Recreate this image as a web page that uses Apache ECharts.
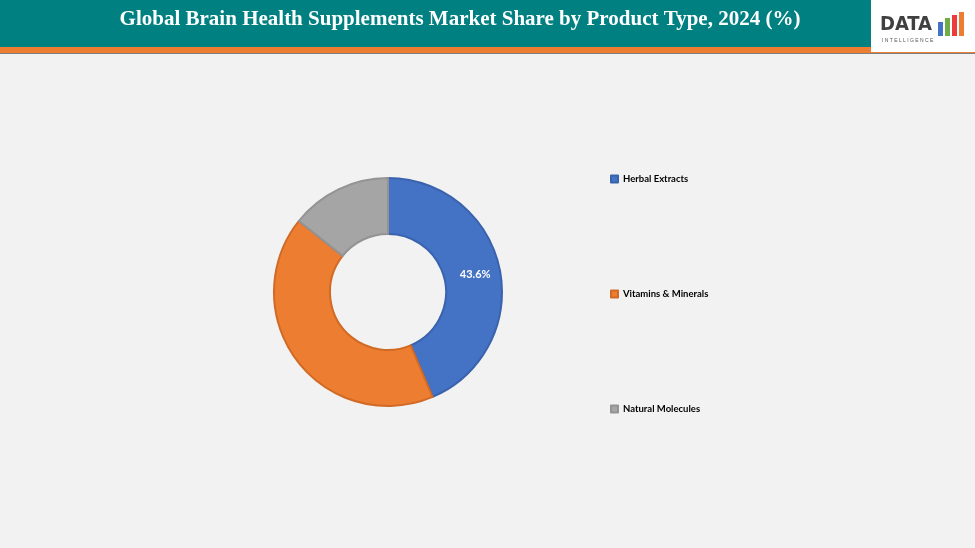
<!DOCTYPE html>
<html lang="en">
<head>
<meta charset="utf-8">
<title>Brain Health Supplements</title>
<script src="https://cdn.jsdelivr.net/npm/echarts@6/dist/echarts.min.js"></script>
<style>
html,body{margin:0;padding:0;background:#f2f2f2;}
#main{width:975px;height:548px;}
</style>
</head>
<body>
<div id="main"></div>
<script>
var categories = ['Herbal Extracts', 'Vitamins & Minerals', 'Natural Molecules'];
var shares = [43.6, 42.1, 14.3];
var colors = ['#4472c4', '#ed7d31', '#a5a5a5'];
var borders = ['#3a63ad', '#d06a25', '#939393'];

var chart = echarts.init(document.getElementById('main'));
chart.setOption({
    backgroundColor: '#f2f2f2',
    graphic: [
        {type: 'rect', shape: {x: 0, y: 0, width: 975, height: 47}, style: {fill: '#008080'}},
        {type: 'rect', shape: {x: 0, y: 47, width: 975, height: 6}, style: {fill: '#ed7d31'}},
        {type: 'rect', shape: {x: 0, y: 53, width: 975, height: 1}, style: {fill: '#7f7f7f'}},
        {type: 'text', x: 460, y: 9, style: {text: 'Global Brain Health Supplements Market Share by Product Type, 2024 (%)',
            fill: '#fff', font: 'bold 21px "Liberation Serif", serif', align: 'center'}},
        {type: 'rect', shape: {x: 871, y: 0, width: 104, height: 52}, style: {fill: '#fff'}},
        {type: 'text', x: 880, y: 15, style: {text: 'DATA', fill: '#404040', font: 'bold 20px "DejaVu Sans Condensed", sans-serif'}},
        {type: 'rect', shape: {x: 938, y: 22, width: 5, height: 14}, style: {fill: '#4472c4'}},
        {type: 'rect', shape: {x: 945, y: 18, width: 5, height: 18}, style: {fill: '#70ad47'}},
        {type: 'rect', shape: {x: 952, y: 15, width: 5, height: 21}, style: {fill: '#ed3b3b'}},
        {type: 'rect', shape: {x: 959, y: 12, width: 5, height: 24}, style: {fill: '#ed7d31'}},
        {type: 'text', x: 882, y: 38, style: {text: 'I N T E L L I G E N C E', fill: '#555', font: '5px sans-serif'}}
    ],
    legend: {
        orient: 'vertical', left: 605, top: 169, itemGap: 105,
        itemWidth: 7, itemHeight: 7, icon: 'rect',
        textStyle: {fontSize: 9.5, fontWeight: 'bold', color: '#000', fontFamily: 'Lato, sans-serif'},
        data: categories
    },
    series: [{
        type: 'pie',
        center: [388, 292],
        radius: [58, 114],
        startAngle: 90,
        clockwise: true,
        label: {
            position: 'inside', color: '#fff', fontSize: 11, fontWeight: 'bold', fontFamily: 'Lato, sans-serif',
            formatter: function (p) { return p.dataIndex === 0 ? p.value + '%' : ''; }
        },
        labelLine: {show: false},
        emphasis: {disabled: true},
        data: categories.map(function (c, i) {
            return {name: c, value: shares[i], itemStyle: {color: colors[i], borderColor: borders[i], borderWidth: 2}};
        })
    }]
});
</script>
</body>
</html>
